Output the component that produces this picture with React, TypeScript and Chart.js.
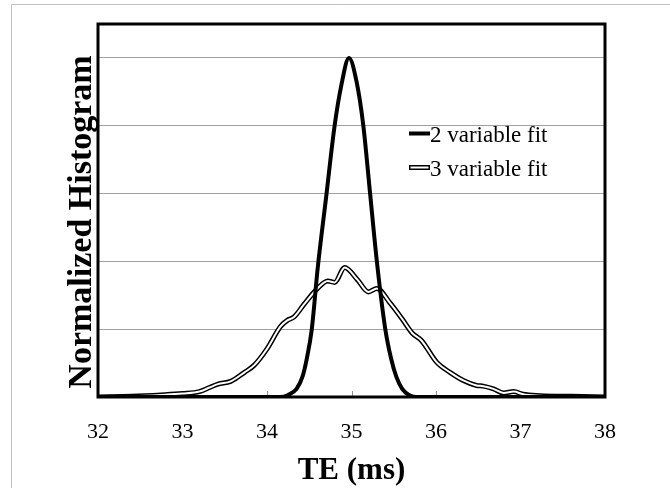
import React, { useEffect, useRef } from 'react';
import { Chart, registerables } from 'chart.js';

Chart.register(...registerables);

// ---- Data ----
const xTicks = [32, 33, 34, 35, 36, 37, 38];

const teTwo = [32, 33, 34, 34.15, 34.25, 34.35, 34.42, 34.47, 34.53, 34.6, 34.7, 34.8, 34.88, 34.97, 35.06, 35.14, 35.22, 35.3, 35.4, 35.47, 35.53, 35.6, 35.68, 35.76, 36, 37, 38];
const histTwo = [0, 0, 0, 0, 0.03, 0.12, 0.3, 0.56, 1.0, 1.9, 2.95, 4.0, 4.6, 5.0, 4.65, 4.0, 3.0, 2.0, 1.0, 0.56, 0.3, 0.12, 0.03, 0, 0, 0, 0];

const teThree = [32, 32.4, 32.75, 33.0, 33.2, 33.32, 33.42, 33.57, 33.73, 33.85, 34.0, 34.16, 34.24, 34.32, 34.44, 34.59, 34.72, 34.8, 34.92, 35.07, 35.2, 35.3, 35.46, 35.6, 35.72, 35.83, 36.01, 36.17, 36.33, 36.48, 36.56, 36.68, 36.8, 36.92, 37.03, 37.23, 37.6, 38];
const histThree = [0, 0.01, 0.03, 0.05, 0.08, 0.14, 0.19, 0.23, 0.36, 0.47, 0.71, 1.04, 1.13, 1.18, 1.37, 1.59, 1.71, 1.69, 1.91, 1.73, 1.55, 1.6, 1.38, 1.15, 0.94, 0.83, 0.51, 0.36, 0.24, 0.17, 0.16, 0.12, 0.06, 0.08, 0.04, 0.02, 0.01, 0];

const seriesLabels = ['2 variable fit', '3 variable fit'];
const xTitle = 'TE (ms)';
const yTitle = 'Normalized Histogram';

const SERIF = '"Liberation Serif", "Times New Roman", serif';

const framePlugin = {
  id: 'framePlugin',
  beforeDraw(chart: any) {
    const { ctx, width, height } = chart;
    ctx.save();
    ctx.fillStyle = '#ffffff';
    ctx.fillRect(0, 0, width, height);
    ctx.strokeStyle = '#c0c0c0';
    ctx.lineWidth = 1;
    ctx.beginPath();
    ctx.moveTo(11.5, height);
    ctx.lineTo(11.5, 4.5);
    ctx.lineTo(width, 4.5);
    ctx.stroke();
    ctx.restore();
  },
  beforeDatasetsDraw(chart: any) {
    const { ctx, chartArea, scales } = chart;
    ctx.save();
    ctx.strokeStyle = '#909090';
    ctx.lineWidth = 1;
    xTicks.forEach((v) => {
      const px = Math.round(scales.x.getPixelForValue(v)) + 0.5;
      ctx.beginPath();
      ctx.moveTo(px, chartArea.bottom);
      ctx.lineTo(px, chartArea.bottom - 6);
      ctx.stroke();
    });
    ctx.restore();
  },
  afterDraw(chart: any) {
    const { ctx, chartArea } = chart;
    ctx.save();
    ctx.strokeStyle = '#000';
    ctx.lineWidth = 3;
    ctx.strokeRect(chartArea.left, chartArea.top, chartArea.right - chartArea.left, chartArea.bottom - chartArea.top);

    // y-axis title
    ctx.save();
    ctx.translate(82, 222);
    ctx.rotate(-Math.PI / 2);
    ctx.fillStyle = '#000';
    ctx.font = `bold 34px ${SERIF}`;
    ctx.textAlign = 'center';
    ctx.textBaseline = 'middle';
    ctx.fillText(yTitle, 0, 0);
    ctx.restore();

    // legend (inside plot area)
    const lx0 = 409;
    const lx1 = 430;
    ctx.lineCap = 'butt';
    ctx.strokeStyle = '#000';
    ctx.lineWidth = 4;
    ctx.beginPath();
    ctx.moveTo(lx0, 133.5);
    ctx.lineTo(lx1, 133.5);
    ctx.stroke();

    ctx.lineWidth = 5;
    ctx.beginPath();
    ctx.moveTo(lx0, 167.5);
    ctx.lineTo(lx1, 167.5);
    ctx.stroke();
    ctx.strokeStyle = '#fff';
    ctx.lineWidth = 2;
    ctx.beginPath();
    ctx.moveTo(lx0 + 1.5, 167.5);
    ctx.lineTo(lx1 - 1.5, 167.5);
    ctx.stroke();

    ctx.fillStyle = '#000';
    ctx.font = `23px ${SERIF}`;
    ctx.textBaseline = 'alphabetic';
    ctx.textAlign = 'left';
    ctx.fillText(seriesLabels[0], lx1, 142);
    ctx.fillText(seriesLabels[1], lx1, 176);
    ctx.restore();
  },
};

export default function App() {
  const canvasRef = useRef<HTMLCanvasElement | null>(null);

  useEffect(() => {
    document.body.style.margin = '0';
    const canvas = canvasRef.current;
    if (!canvas) return;

    const ptsTwo = teTwo.map((x, i) => ({ x, y: histTwo[i] }));
    const ptsThree = teThree.map((x, i) => ({ x, y: histThree[i] }));

    const chart = new Chart(canvas, {
      type: 'line',
      data: {
        datasets: [
          {
            label: seriesLabels[0],
            data: ptsTwo,
            borderColor: '#000',
            borderWidth: 4,
            pointRadius: 0,
            cubicInterpolationMode: 'monotone',
            fill: false,
            order: 0,
          },
          {
            label: seriesLabels[1],
            data: ptsThree,
            borderColor: '#ffffff',
            borderWidth: 2,
            pointRadius: 0,
            cubicInterpolationMode: 'monotone',
            fill: false,
            order: 1,
          },
          {
            label: seriesLabels[1] + ' outline',
            data: ptsThree,
            borderColor: '#000',
            borderWidth: 5,
            pointRadius: 0,
            cubicInterpolationMode: 'monotone',
            fill: false,
            order: 2,
          },
        ],
      } as any,
      options: {
        animation: false,
        responsive: false,
        events: [],
        layout: { padding: { top: 24, right: 65, bottom: 0, left: 0 } },
        plugins: {
          legend: { display: false },
          tooltip: { enabled: false },
        },
        scales: {
          x: {
            type: 'linear',
            min: 32,
            max: 38,
            afterFit: (s: any) => {
              s.height = 91;
            },
            afterBuildTicks: (s: any) => {
              s.ticks = xTicks.map((v) => ({ value: v }));
            },
            ticks: {
              stepSize: 1,
              padding: 22,
              color: '#000',
              font: { family: SERIF, size: 22 },
              maxRotation: 0,
              autoSkip: false,
            },
            grid: { display: false, drawTicks: false },
            border: { display: false },
            title: {
              display: true,
              text: xTitle,
              color: '#000',
              font: { family: SERIF, size: 31, weight: 'bold', lineHeight: 1.1 },
              padding: { top: 0, bottom: 0 },
            },
          },
          y: {
            min: 0,
            max: 5.5,
            afterFit: (s: any) => {
              s.width = 98;
            },
            ticks: { display: false, stepSize: 1 },
            grid: { color: '#a0a0a0', lineWidth: 1, drawTicks: false },
            border: { display: false },
            title: { display: false },
          },
        },
      } as any,
      plugins: [framePlugin],
    });

    return () => chart.destroy();
  }, []);

  return (
    <div style={{ width: 670, height: 488 }}>
      <canvas ref={canvasRef} width={670} height={488} style={{ display: 'block', width: 670, height: 488 }} />
    </div>
  );
}
